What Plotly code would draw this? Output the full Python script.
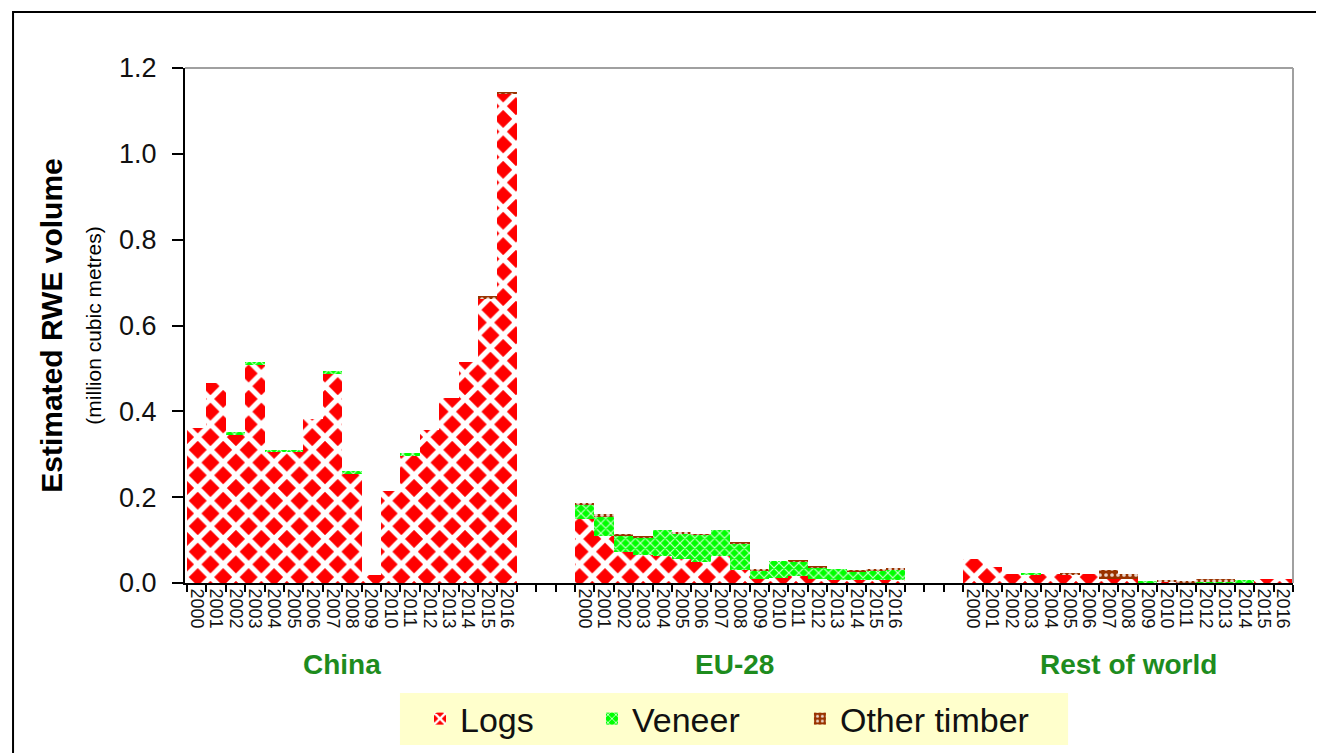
import plotly.graph_objects as go

years = [str(y) for y in range(2000, 2017)]
groups = ["China", "EU-28", "Rest of world"]

china_logs = [0.362, 0.466, 0.344, 0.508, 0.305, 0.305, 0.382, 0.487, 0.253, 0.018,
              0.215, 0.297, 0.356, 0.432, 0.516, 0.664, 1.141]
china_veneer = [0, 0, 0.007, 0.007, 0.006, 0.006, 0, 0.008, 0.008, 0,
                0, 0.006, 0, 0, 0, 0, 0]
china_other = [0, 0, 0, 0, 0, 0, 0, 0, 0, 0,
               0, 0, 0, 0, 0, 0.004, 0.003]

eu_logs = [0.150, 0.110, 0.072, 0.066, 0.062, 0.056, 0.050, 0.062, 0.031, 0.010,
           0.012, 0.016, 0.010, 0.008, 0.008, 0.008, 0.008]
eu_veneer = [0.033, 0.046, 0.039, 0.040, 0.062, 0.060, 0.062, 0.062, 0.061, 0.018,
             0.040, 0.033, 0.026, 0.025, 0.018, 0.020, 0.022]
eu_other = [0.004, 0.004, 0.004, 0.003, 0.0, 0.004, 0.002, 0.0, 0.004, 0.005,
            0.0, 0.005, 0.004, 0.0, 0.002, 0.005, 0.005]

row_logs = [0.055, 0.038, 0.021, 0.019, 0.021, 0.019, 0.021, 0.010, 0.009, 0.001,
            0.002, 0.002, 0.0, 0.0, 0.0, 0.009, 0.009]
row_veneer = [0, 0, 0, 0.004, 0, 0, 0, 0, 0, 0.004,
              0, 0, 0.003, 0.003, 0.008, 0, 0]
row_other = [0, 0, 0, 0, 0, 0.004, 0, 0.020, 0.012, 0,
             0.006, 0.001, 0.006, 0.006, 0, 0, 0]

series_names = ["Logs", "Veneer", "Other timber"]
group_gap = 3

# category positions (three groups of years separated by empty slots)
n = len(years)
offsets = [g * (n + group_gap) for g in range(len(groups))]
xpos = [o + i for o in offsets for i in range(n)]
ticktext = years * len(groups)

logs = china_logs + eu_logs + row_logs
veneer = china_veneer + eu_veneer + row_veneer
other = china_other + eu_other + row_other

fig = go.Figure()
fig.add_trace(go.Bar(
    x=xpos, y=logs, name=series_names[0], width=1, legend="legend",
    marker=dict(color="#FF0000", line=dict(width=0),
                pattern=dict(shape="x", fgcolor="#FFFFFF", bgcolor="#FF0000", fgopacity=1,
                             size=18, solidity=0.5, fillmode="overlay")),
))
fig.add_trace(go.Bar(
    x=xpos, y=veneer, name=series_names[1], width=1, legend="legend2",
    marker=dict(color="#00FF00", line=dict(width=0),
                pattern=dict(shape="x", fgcolor="#FFFFFF", bgcolor="#00FF00", fgopacity=0.8,
                             size=7, solidity=0.3, fillmode="overlay")),
))
fig.add_trace(go.Bar(
    x=xpos, y=other, name=series_names[2], width=1, legend="legend3",
    marker=dict(color="#993300", line=dict(width=0),
                pattern=dict(shape=".", fgcolor="#FFFFFF", bgcolor="#993300", fgopacity=0.8,
                             size=6, solidity=0.3, fillmode="overlay")),
))

xmax = xpos[-1] + 0.5
boundaries = [i - 0.5 for i in range(int(xmax + 0.5) + 1)]

legend_common = dict(orientation="h", yref="container", y=0.0456, xanchor="left",
                     yanchor="middle", bgcolor="rgba(0,0,0,0)",
                     font=dict(size=34, color="#111111"), itemwidth=30)

fig.update_layout(
    width=1316, height=745,
    margin=dict(l=177, r=31, t=60, b=170),
    barmode="stack", bargap=0,
    plot_bgcolor="white", paper_bgcolor="white",
    font=dict(family="Liberation Sans, Arial, sans-serif", color="#111111"),
    showlegend=True,
    legend=dict(x=0.2121, **legend_common),
    legend2=dict(x=0.3673, **legend_common),
    legend3=dict(x=0.5550, **legend_common),
    xaxis=dict(
        range=[-0.6, xmax], showgrid=False, zeroline=False,
        showline=True, linecolor="black", linewidth=2,
        tickmode="array", tickvals=xpos, ticktext=ticktext,
        tickangle=90, ticks="", tickfont=dict(size=18, color="#111111"),
        minor=dict(tickmode="array", tickvals=boundaries, ticks="outside",
                   ticklen=7, tickwidth=2, tickcolor="black"),
    ),
    yaxis=dict(
        range=[0, 1.2], dtick=0.2, tick0=0, tickformat=".1f",
        showgrid=False, zeroline=False, showline=True, linecolor="black", linewidth=2,
        ticks="outside", ticklen=11, tickwidth=2, tickcolor="black",
        ticklabelstandoff=10,
        tickfont=dict(size=27, color="#111111"),
        title=dict(text="<b>Estimated RWE volume</b><br><span style='font-size:21px'>(million cubic metres)</span>",
                   font=dict(size=30, color="#000000"), standoff=9),
    ),
)

# group labels
label_shift = [-0.5, -0.3, 0.0]
for g, name in enumerate(groups):
    fig.add_annotation(x=offsets[g] + (n - 1) / 2 + label_shift[g], y=-0.159, xref="x", yref="paper",
                       text=f"<b>{name}</b>", showarrow=False,
                       font=dict(size=28, color="#1E8C1E"), xanchor="center", yanchor="middle")

# legend background box
fig.add_shape(type="rect", xref="paper", yref="paper", x0=0.194, x1=0.797, y0=-0.3146, y1=-0.2136,
              line=dict(width=0), fillcolor="#FFFFCC", layer="below")
# light frame on top and right of plot area
fig.add_shape(type="line", xref="paper", yref="paper", x0=0, x1=1, y0=1, y1=1,
              line=dict(color="#A0A0A0", width=2))
fig.add_shape(type="line", xref="paper", yref="paper", x0=1, x1=1, y0=0, y1=1,
              line=dict(color="#A0A0A0", width=2))
# outer chart border
fig.add_shape(type="rect", xref="paper", yref="paper", x0=-0.1552, x1=1.04, y0=-0.36, y1=1.1087,
              line=dict(color="black", width=2), fillcolor="rgba(0,0,0,0)", layer="below")

fig.write_html("out.html")
